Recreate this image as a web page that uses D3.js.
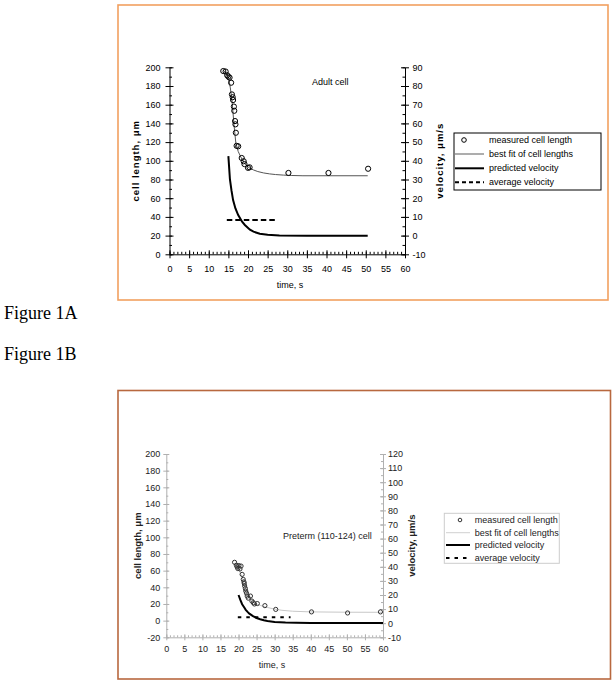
<!DOCTYPE html>
<html><head><meta charset="utf-8">
<script src="https://cdn.jsdelivr.net/npm/d3@7"></script>
<style>
body{margin:0;background:#fff;}
svg{display:block;font-family:"Liberation Sans",Arial,sans-serif;}
</style>
</head><body>
<svg id="c" width="612" height="685"></svg>
<script>
// ---------- Figure 1A (adult cell) ----------
const adultMeasuredTime   = [13.7,14.3,14.7,15.0,15.3,15.7,15.9,16.1,16.2,16.4,16.5,16.7,16.8,16.9,17.1,17.5,18.4,18.9,19.1,20.0,20.4,30.3,40.5,50.6];
const adultMeasuredLength = [196,195.5,191.5,190,189,183.5,171,168,165,158,153.5,142.5,139,130,116,115.5,103,99.5,96.5,92.5,93,87,87,91.5];
const adultFitTime   = [13.7,14.3,15.0,15.5,16.0,16.4,16.9,17.5,18.0,18.5,19.0,19.7,20.5,21.4,22.5,24.0,25.5,27.0,29.0,31.0,34.0,50.5];
const adultFitLength = [197,194,190,178,161,140,119,110,105.5,101.5,98,94.5,92,90.2,88.5,87,86,85.3,84.7,84.3,84,84];
const adultVelTime   = [15.0,15.4,15.8,16.2,16.8,17.5,18.5,19.2,20.5,21.4,23.0,25.0,28.0,35.0,50.5];
const adultVelocity  = [42.5,30,24,19,14.5,11,7.4,5.7,3.2,2.1,1.0,0.4,0,-0.1,-0.1];
const adultAvgTime     = [14.6,27.2];
const adultAvgVelocity = [8.3,8.3];

// ---------- Figure 1B (preterm cell) ----------
const pretermMeasuredTime   = [18.9,19.4,19.6,19.8,20.1,20.4,20.7,21.0,21.3,21.5,21.6,21.7,21.9,22.0,22.2,22.4,22.7,23.3,23.7,24.1,24.4,25.2,27.3,30.3,40.2,50.2,59.3];
const pretermMeasuredLength = [70,66.5,64.5,62.5,66,62,65.5,55.5,49.5,46.5,44.5,41.5,38.5,35.5,33,29.5,27,29.5,23.5,21.5,20,20.5,18,13.5,10.5,9.2,10.5];
const pretermFitTime   = [19.0,20.0,21.0,21.5,22.0,22.5,23.0,23.5,24.0,25.0,26.0,27.0,28.0,30.0,32.0,35.0,40.0,50.0,60.0];
const pretermFitLength = [69,62,52,46,38,32,28,25,22.5,20,18.3,17,15.8,13.8,12.4,11.3,10.5,10.1,10];
const pretermVelTime   = [20.0,20.5,21.0,21.5,22.0,22.5,23.0,24.0,25.0,26.0,27.0,28.0,30.0,33.0,36.0,40.0,50.0,60.0];
const pretermVelocity  = [20,16.5,13.5,11.5,9.5,8,6.8,5,3.7,2.8,2.1,1.5,0.9,0.5,0.3,0.2,0.1,0.1];
const pretermAvgTime     = [19.8,34.4];
const pretermAvgVelocity = [4.2,4.2];

// ---------- ticks & labels ----------
const timeTicks      = d3.range(0, 61, 5);
const timeMinorTicks = d3.range(0, 61, 1);
const adultLengthTicks   = d3.range(0, 201, 20);
const adultLengthMinor   = d3.range(0, 201, 10);
const adultVelTicks      = d3.range(-10, 91, 10);
const adultVelMinor      = d3.range(-10, 91, 5);
const pretermLengthTicks = d3.range(-20, 201, 20);
const pretermLengthMinor = d3.range(-20, 201, 10);
const pretermVelTicks    = d3.range(-10, 121, 10);
const pretermVelMinor    = d3.range(-10, 121, 5);
const legendLabels = ["measured cell length","best fit of cell lengths","predicted velocity","average velocity"];
const figureLabels = ["Figure 1A","Figure 1B"];

const svg = d3.select("#c");
const fmt = d => String(d);

function drawPanel(p) {
  const g = svg.append("g");
  g.append("rect").attr("x", p.frame[0]).attr("y", p.frame[1])
    .attr("width", p.frame[2]-p.frame[0]).attr("height", p.frame[3]-p.frame[1])
    .attr("fill", "none").attr("stroke", p.frameColor).attr("stroke-width", 1.6);

  const x  = d3.scaleLinear().domain([0, 60]).range([p.x0, p.x1]);
  const yL = d3.scaleLinear().domain(p.yLDomain).range([p.yb, p.yt]);
  const yR = d3.scaleLinear().domain(p.yRDomain).range([p.yb, p.yt]);

  function styleAxis(sel) {
    sel.attr("font-family", null).attr("font-size", null);
    sel.selectAll("path.domain").attr("stroke", p.axisColor).attr("stroke-width", 1);
    sel.selectAll("line").attr("stroke", p.axisColor).attr("stroke-width", 1);
    sel.selectAll("text").attr("fill", p.textColor).style("font-size", "9px");
  }

  // minor ticks
  const mx = g.append("g").attr("transform", `translate(0,${p.yb})`)
    .call(d3.axisBottom(x).tickValues(timeMinorTicks).tickSize(-p.minorLen).tickSizeOuter(0).tickFormat(""));
  styleAxis(mx); mx.select("path.domain").remove();
  const ml = g.append("g").attr("transform", `translate(${p.x0},0)`)
    .call(d3.axisLeft(yL).tickValues(p.lMinor).tickSize(-p.minorLen).tickSizeOuter(0).tickFormat(""));
  styleAxis(ml); ml.select("path.domain").remove();
  const mr = g.append("g").attr("transform", `translate(${p.x1},0)`)
    .call(d3.axisRight(yR).tickValues(p.rMinor).tickSize(-p.minorLen).tickSizeOuter(0).tickFormat(""));
  styleAxis(mr); mr.select("path.domain").remove();

  // major axes
  const ax = g.append("g").attr("transform", `translate(0,${p.yb})`)
    .call(d3.axisBottom(x).tickValues(timeTicks).tickSize(p.majorLen).tickSizeOuter(0).tickFormat(fmt));
  styleAxis(ax);
  ax.selectAll(".tick line").attr("y1", -p.majorLen).attr("y2", p.majorLen);
  ax.selectAll(".tick text").attr("y", p.xLabOff).attr("dy", "0.35em");

  const al = g.append("g").attr("transform", `translate(${p.x0},0)`)
    .call(d3.axisLeft(yL).tickValues(p.lTicks).tickSize(p.majorLen).tickSizeOuter(0).tickFormat(fmt));
  styleAxis(al);
  al.selectAll(".tick line").attr("x1", -p.majorLen).attr("x2", p.majorLen);
  al.selectAll(".tick text").attr("x", -p.lLabOff);

  const ar = g.append("g").attr("transform", `translate(${p.x1},0)`)
    .call(d3.axisRight(yR).tickValues(p.rTicks).tickSize(p.majorLen).tickSizeOuter(0).tickFormat(fmt));
  styleAxis(ar);
  ar.selectAll(".tick line").attr("x1", -p.majorLen).attr("x2", p.majorLen);
  ar.selectAll(".tick text").attr("x", p.rLabOff);

  // axis titles
  const cy = (p.yb + p.yt) / 2;
  g.append("text").attr("transform", `translate(${p.lTitleX},${cy}) rotate(-90)`)
    .attr("text-anchor", "middle").attr("dominant-baseline", "central")
    .attr("font-size", 9.5).attr("font-weight", "bold").attr("letter-spacing", p.titleSpacing)
    .attr("fill", p.textColor).text(p.lTitle);
  g.append("text").attr("transform", `translate(${p.rTitleX},${cy}) rotate(-90)`)
    .attr("text-anchor", "middle").attr("dominant-baseline", "central")
    .attr("font-size", 9.5).attr("font-weight", "bold").attr("letter-spacing", p.titleSpacing)
    .attr("fill", p.textColor).text(p.rTitle);
  g.append("text").attr("x", p.xTitle[0]).attr("y", p.xTitle[1]).attr("text-anchor", "middle")
    .attr("font-size", 9).attr("fill", p.textColor).text("time, s");
  g.append("text").attr("x", p.note[0]).attr("y", p.note[1])
    .attr("font-size", 9).attr("fill", p.textColor).text(p.noteText);

  // series
  const lineL = d3.line().x(d => x(d[0])).y(d => yL(d[1]));
  const lineR = d3.line().x(d => x(d[0])).y(d => yR(d[1]));
  g.append("path").datum(d3.zip(p.fitT, p.fitL)).attr("d", lineL)
    .attr("fill", "none").attr("stroke", p.fitColor).attr("stroke-width", p.fitWidth);
  g.append("path").datum(d3.zip(p.velT, p.vel)).attr("d", lineR)
    .attr("fill", "none").attr("stroke", "#000").attr("stroke-width", 2);
  g.append("path").datum(d3.zip(p.avgT, p.avg)).attr("d", lineR)
    .attr("fill", "none").attr("stroke", "#000").attr("stroke-width", 2)
    .attr("stroke-dasharray", p.dash);
  g.append("g").selectAll("circle").data(d3.zip(p.mT, p.mL)).join("circle")
    .attr("cx", d => x(d[0])).attr("cy", d => yL(d[1])).attr("r", p.markerR)
    .attr("fill", "none").attr("stroke", p.markerColor).attr("stroke-width", 1);

  // legend
  const L = p.legend;
  g.append("rect").attr("x", L.box[0]).attr("y", L.box[1])
    .attr("width", L.box[2]-L.box[0]).attr("height", L.box[3]-L.box[1])
    .attr("fill", "#fff").attr("stroke", L.boxColor).attr("stroke-width", 1);
  legendLabels.forEach((lab, i) => {
    const yy = L.rows[i];
    if (i === 0) {
      g.append("circle").attr("cx", L.markX).attr("cy", yy).attr("r", p.markerR - 0.3)
        .attr("fill", "none").attr("stroke", p.markerColor).attr("stroke-width", 1);
    } else {
      const ln = g.append("line").attr("x1", L.lx[0]).attr("x2", L.lx[1]).attr("y1", yy).attr("y2", yy);
      if (i === 1) ln.attr("stroke", L.fitColor).attr("stroke-width", L.fitWidth);
      if (i === 2) ln.attr("stroke", "#000").attr("stroke-width", 2);
      if (i === 3) ln.attr("stroke", "#000").attr("stroke-width", 2).attr("stroke-dasharray", L.dash);
    }
    g.append("text").attr("x", L.tx).attr("y", yy).attr("dy", "0.35em")
      .attr("font-size", 9).attr("fill", p.textColor).text(lab);
  });
}

drawPanel({
  frame: [118, 5, 608, 300], frameColor: "#f2a060",
  x0: 169.5, x1: 405, yb: 254.3, yt: 67.3,
  yLDomain: [0, 200], yRDomain: [-10, 90],
  lTicks: adultLengthTicks, lMinor: adultLengthMinor,
  rTicks: adultVelTicks, rMinor: adultVelMinor,
  axisColor: "#000", textColor: "#000",
  majorLen: 4, minorLen: 2.5, xLabOff: 15, lLabOff: 9, rLabOff: 7.5,
  lTitle: "cell length, \u03bcm", rTitle: "velocity, \u03bcm/s", titleSpacing: 1,
  lTitleX: 135, rTitleX: 439, xTitle: [290, 288], note: [312, 85], noteText: "Adult cell",
  fitT: adultFitTime, fitL: adultFitLength, fitColor: "#555", fitWidth: 1,
  velT: adultVelTime, vel: adultVelocity,
  avgT: adultAvgTime, avg: adultAvgVelocity, dash: "5.5,3",
  mT: adultMeasuredTime, mL: adultMeasuredLength, markerR: 2.6, markerColor: "#000",
  legend: { box: [454, 133, 601, 190], boxColor: "#000", rows: [140, 154, 168.3, 182.3],
            markX: 464, lx: [455, 484], tx: 489, fitColor: "#999", fitWidth: 1.6, dash: "4,3" }
});

drawPanel({
  frame: [118, 390.5, 610.5, 679], frameColor: "#b8683f",
  x0: 166.3, x1: 383, yb: 637.3, yt: 454,
  yLDomain: [-20, 200], yRDomain: [-10, 120],
  lTicks: pretermLengthTicks, lMinor: pretermLengthMinor,
  rTicks: pretermVelTicks, rMinor: pretermVelMinor,
  axisColor: "#b0b0b0", textColor: "#222",
  majorLen: 3, minorLen: 2, xLabOff: 12, lLabOff: 6, rLabOff: 5,
  lTitle: "cell length, \u03bcm", rTitle: "velocity, \u03bcm/s", titleSpacing: 0,
  lTitleX: 137.5, rTitleX: 411.5, xTitle: [272, 668], note: [283, 539], noteText: "Preterm (110-124) cell",
  fitT: pretermFitTime, fitL: pretermFitLength, fitColor: "#c8c8c8", fitWidth: 1,
  velT: pretermVelTime, vel: pretermVelocity,
  avgT: pretermAvgTime, avg: pretermAvgVelocity, dash: "3.5,5",
  mT: pretermMeasuredTime, mL: pretermMeasuredLength, markerR: 2.1, markerColor: "#333",
  legend: { box: [444.3, 513.3, 559.3, 563.3], boxColor: "#ccc", rows: [520, 532.7, 545, 558],
            markX: 460, lx: [446, 470], tx: 474.7, fitColor: "#d0d0d0", fitWidth: 1, dash: "3.5,5" }
});

// figure captions
svg.selectAll("text.fig").data(figureLabels).join("text").attr("class", "fig")
  .attr("x", 4).attr("y", (d, i) => i === 0 ? 318.5 : 359.5)
  .attr("font-family", "'Liberation Serif','Times New Roman',serif")
  .attr("font-size", 18).attr("fill", "#000").text(d => d);
</script>
</body></html>
